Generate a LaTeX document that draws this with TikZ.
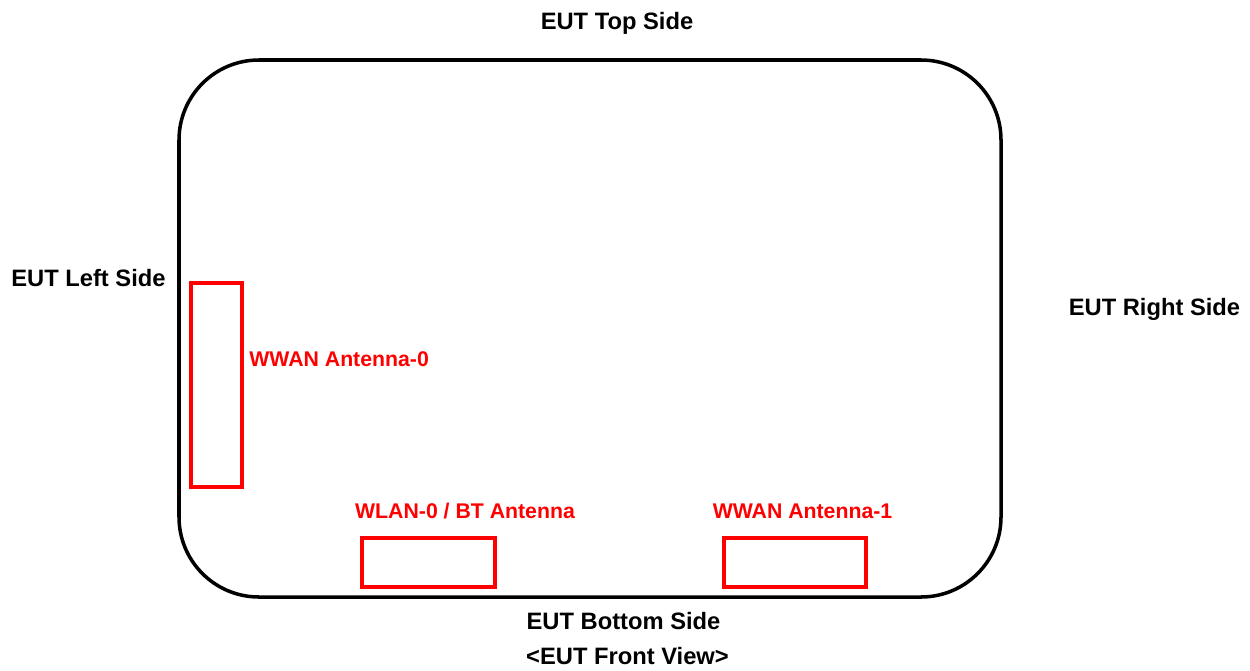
\documentclass[tikz,border=0pt]{standalone}
\usepackage{fontspec}
\setmainfont{Liberation Sans}
\begin{document}
\begin{tikzpicture}[x=0.02cm,y=-0.02cm,
  lbl/.style={font=\fontsize{13.5pt}{16pt}\selectfont\bfseries, inner sep=0pt, text height=9.7pt, text depth=0pt},
  redlbl/.style={lbl, font=\fontsize{12.1pt}{15pt}\selectfont\bfseries, text height=8.7pt, text=red},
  ant/.style={draw=red, line width=2.1pt},
  body/.style={draw=black, line width=2pt, rounded corners=1.6cm}]
\useasboundingbox (0,0) rectangle (1250,670);
\draw[body] (179,60) rectangle (1001,597);
\draw[ant] (191,283) coordinate (a0nw) rectangle (242,487) coordinate (a0se);
\draw[ant] (362,538) coordinate (a1nw) rectangle (495,587) coordinate (a1se);
\draw[ant] (724,538) coordinate (a2nw) rectangle (866,587) coordinate (a2se);
\node[lbl] (top) at (617,21) {EUT Top Side};
\node[lbl] (left) at (88.5,278) {EUT Left Side};
\node[lbl] (right) at (1154.5,307) {EUT Right Side};
\node[lbl] (bottom) at (623.5,621) {EUT Bottom Side};
\node[lbl] (front) at (627.5,656) {<EUT Front View>};
\node[redlbl, anchor=west] (w0) at (249,359) {WWAN Antenna-0};
\node[redlbl] (wlan) at (465,511) {WLAN-0 / BT Antenna};
\node[redlbl] (w1) at (802.5,511) {WWAN Antenna-1};
\end{tikzpicture}
\end{document}
